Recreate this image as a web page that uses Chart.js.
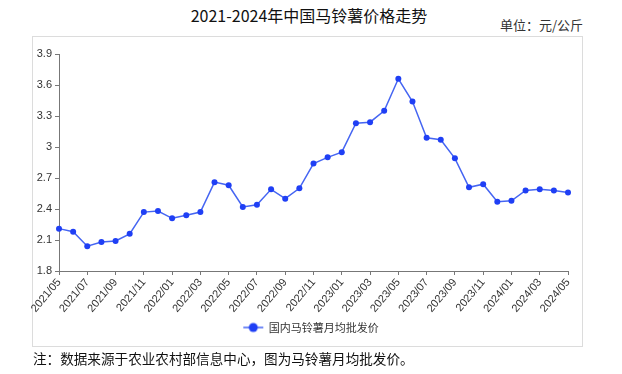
<!DOCTYPE html>
<html>
<head>
<meta charset="utf-8">
<script src="https://cdn.jsdelivr.net/npm/chart.js@4/dist/chart.umd.min.js"></script>
<style>
  html, body { margin: 0; padding: 0; background: #fff; }
  #wrap { position: relative; width: 622px; height: 374px; overflow: hidden; }
  #frame { position: absolute; left: 32px; top: 36px; width: 551px; height: 311px; border: 1px solid #dcdcdc; box-sizing: border-box; }
  #title { position: absolute; left: 0; width: 618px; top: 3px; text-align: center; font: 16px "Noto Sans CJK SC", sans-serif; color: #111; white-space: nowrap; }
  #unit { position: absolute; right: 39px; top: 15px; font: 13px "Noto Sans CJK SC", sans-serif; color: #333; white-space: nowrap; }
  #note { position: absolute; left: 33px; top: 348px; font: 13.6px "Noto Sans CJK SC", sans-serif; color: #111; white-space: nowrap; }
  canvas { position: absolute; left: 0; top: 0; }
</style>
</head>
<body>
<div id="wrap">
  <div id="frame"></div>
  <div id="title">2021-2024年中国马铃薯价格走势</div>
  <div id="unit">单位：元/公斤</div>
  <canvas id="c" width="622" height="374"></canvas>
  <div id="note">注：数据来源于农业农村部信息中心，图为马铃薯月均批发价。</div>
</div>
<script>
const seriesName = '国内马铃薯月均批发价';
const months = [
  '2021/05','2021/06','2021/07','2021/08','2021/09','2021/10','2021/11','2021/12',
  '2022/01','2022/02','2022/03','2022/04','2022/05','2022/06','2022/07','2022/08','2022/09','2022/10','2022/11','2022/12',
  '2023/01','2023/02','2023/03','2023/04','2023/05','2023/06','2023/07','2023/08','2023/09','2023/10','2023/11','2023/12',
  '2024/01','2024/02','2024/03','2024/04','2024/05'
];
const prices = [
  2.21, 2.18, 2.04, 2.08, 2.09, 2.16, 2.37, 2.38,
  2.31, 2.34, 2.37, 2.66, 2.63, 2.42, 2.44, 2.59, 2.50, 2.60, 2.84, 2.90,
  2.95, 3.23, 3.24, 3.35, 3.66, 3.44, 3.09, 3.07, 2.89, 2.61, 2.64, 2.47,
  2.48, 2.58, 2.59, 2.58, 2.56
];
const yMin = 1.8, yMax = 3.9, yStep = 0.3;

const lineColor = '#4565f2';
const pointColor = '#1f3ff5';

// legend marker: short line with a circle
const marker = document.createElement('canvas');
marker.width = 22; marker.height = 12;
(function () {
  const g = marker.getContext('2d');
  g.strokeStyle = lineColor; g.lineWidth = 1.5;
  g.beginPath(); g.moveTo(1, 6); g.lineTo(21, 6); g.stroke();
  g.fillStyle = pointColor;
  g.beginPath(); g.arc(11, 6, 4.5, 0, Math.PI * 2); g.fill();
})();

const tickFont = { family: '"Liberation Sans", Arial, sans-serif', size: 11 };

new Chart(document.getElementById('c'), {
  type: 'line',
  data: {
    labels: months,
    datasets: [{
      label: seriesName,
      data: prices,
      yAxisID: 'y',
      borderColor: lineColor,
      backgroundColor: pointColor,
      borderWidth: 1.5,
      pointRadius: 3,
      pointBackgroundColor: pointColor,
      pointBorderColor: pointColor,
      pointBorderWidth: 0,
      tension: 0,
      fill: false
    }]
  },
  options: {
    responsive: false,
    animation: false,
    devicePixelRatio: 1,
    layout: { padding: { left: 35, right: 35, top: 54, bottom: 31 } },
    plugins: {
      title: { display: false },
      tooltip: { enabled: false },
      legend: {
        position: 'bottom',
        labels: {
          usePointStyle: true,
          pointStyleWidth: 20,
          padding: 8,
          color: '#333',
          font: { family: '"Noto Sans CJK SC", sans-serif', size: 11 },
          generateLabels(chart) {
            const items = Chart.defaults.plugins.legend.labels.generateLabels(chart);
            items.forEach(it => { it.pointStyle = marker; });
            return items;
          }
        }
      }
    },
    scales: {
      x: {
        type: 'category',
        offset: false,
        grid: { display: true, drawOnChartArea: false, drawTicks: true, tickLength: 4, color: '#777' },
        border: { display: true, color: '#777', width: 1 },
        ticks: {
          autoSkip: false,
          maxRotation: 50,
          minRotation: 50,
          padding: 1,
          color: '#333',
          font: tickFont,
          callback(value, index) { return index % 2 === 0 ? months[index] : null; }
        },
        afterFit(s) { s.height = 43; s.paddingLeft = 0; s.paddingRight = 0; }
      },
      y: {
        min: yMin,
        max: yMax,
        grid: { display: true, drawOnChartArea: false, drawTicks: true, tickLength: 4, color: '#777' },
        border: { display: true, color: '#777', width: 1 },
        ticks: {
          stepSize: yStep,
          padding: 3,
          color: '#333',
          font: tickFont,
          callback(v) { return String(Number(v.toFixed(1))); }
        },
        afterFit(s) { s.width = 24; s.paddingTop = 0; s.paddingBottom = 0; }
      },
      spacer: {
        position: 'right',
        min: yMin,
        max: yMax,
        grid: { display: false },
        border: { display: false },
        ticks: { display: false },
        afterFit(s) { s.width = 19; s.paddingTop = 0; s.paddingBottom = 0; }
      }
    }
  }
});
</script>
</body>
</html>
